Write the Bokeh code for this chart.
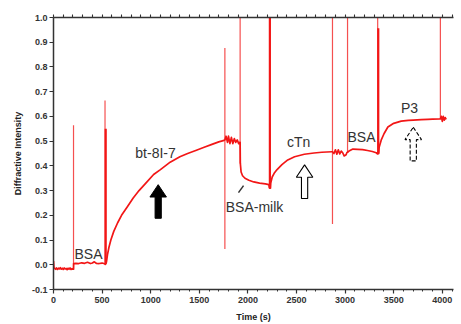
from bokeh.plotting import figure
from bokeh.models import LinearAxis, FixedTicker, Range1d
from bokeh.core.properties import value
from bokeh.embed import file_html
from bokeh.resources import INLINE

# ---------------- data ----------------
time_s = [0, 5, 12, 20, 30, 40, 50, 60, 70, 80, 90, 100, 110, 120, 130, 140, 150, 160, 170, 180, 190, 200,
          206, 207, 230, 260, 290, 320, 350, 380, 400, 420, 440, 470, 500, 526, 532,
          540, 545, 555, 570, 590, 620, 660, 700, 760, 820, 880, 950, 1030, 1100, 1200, 1300, 1380,
          1470, 1550, 1630, 1700, 1755, 1763,
          1775, 1790, 1800, 1815, 1830, 1845, 1860, 1875, 1890, 1905, 1915, 1920,
          1922, 1930, 1945, 1970, 2010, 2060, 2120, 2180, 2215, 2222,
          2232, 2235, 2250, 2270, 2300, 2350, 2410, 2480, 2580, 2680, 2760, 2865, 2870,
          2885, 2900, 2915, 2930, 2945, 2960, 2975, 2990, 3010, 3020, 3025,
          3040, 3080, 3130, 3180, 3230, 3280, 3320, 3335,
          3345, 3350, 3371, 3400, 3440, 3500, 3577, 3650, 3700, 3784, 3850, 3900, 3975, 3980,
          3990, 4000, 4010, 4020, 4030, 4040]
intensity = [0.015, -0.012, -0.015, -0.018, -0.013, -0.019, -0.014, -0.017, -0.012, -0.018, -0.014, -0.019,
             -0.013, -0.017, -0.015, -0.020, -0.014, -0.018, -0.013, -0.019, -0.016, -0.018,
             -0.018, 0.005, 0.006, 0.005, 0.008, 0.006, 0.010, 0.005, 0.007, 0.012, 0.006, 0.005, 0.007, 0.004, 0.002,
             0.005, 0.012, 0.040, 0.070, 0.100, 0.135, 0.170, 0.200, 0.235, 0.270, 0.300, 0.330, 0.365, 0.385,
             0.415, 0.437, 0.450, 0.463, 0.475, 0.487, 0.497, 0.503, 0.505,
             0.520, 0.495, 0.520, 0.490, 0.515, 0.490, 0.510, 0.495, 0.505, 0.490, 0.495, 0.495,
             0.410, 0.375, 0.360, 0.350, 0.342, 0.335, 0.330, 0.327, 0.324, 0.310,
             0.310, 0.330, 0.355, 0.370, 0.385, 0.405, 0.424, 0.437, 0.447, 0.452, 0.455, 0.457, 0.457,
             0.450, 0.465, 0.447, 0.465, 0.448, 0.460, 0.453, 0.440, 0.445, 0.455, 0.455,
             0.460, 0.468, 0.467, 0.466, 0.462, 0.458, 0.453, 0.448,
             0.450, 0.475, 0.504, 0.530, 0.557, 0.572, 0.581, 0.584, 0.585, 0.587, 0.588, 0.589, 0.590, 0.590,
             0.600, 0.580, 0.600, 0.585, 0.595, 0.588]

# injection spikes (time, low, high)
thin_spike_t = [206, 530, 1763, 1920, 2870, 3025, 3335, 3980]
thin_spike_lo = [-0.018, 0.005, 0.064, 0.41, 0.165, 0.455, 0.45, 0.59]
thin_spike_hi = [0.564, 0.664, 0.877, 1.0, 1.0, 1.0, 1.0, 1.0]
thick_spike_t = [537, 2226, 3341]
thick_spike_lo = [0.005, 0.31, 0.45]
thick_spike_hi = [0.55, 1.0, 0.957]

x_ticks = [0, 500, 1000, 1500, 2000, 2500, 3000, 3500, 4000]
x_minor = [t for t in range(0, 4200, 100) if t % 500 != 0]
x_top_ticks = list(range(0, 4200, 100))
y_ticks = [-0.1, 0.0, 0.1, 0.2, 0.3, 0.4, 0.5, 0.6, 0.7, 0.8, 0.9, 1.0]
y_tick_labels = ["-0.1", "0.0", "0.1", "0.2", "0.3", "0.4", "0.5", "0.6", "0.7", "0.8", "0.9", "1.0"]

label_text = ["BSA", "bt-8I-7", "BSA-milk", "cTn", "BSA", "P3"]
label_x = [360, 1050, 2068, 2521, 3169, 3663]
label_y = [0.044, 0.452, 0.232, 0.496, 0.516, 0.636]

arrow_x = [1077, 2583, 3701]
arrow_tip = [0.324, 0.404, 0.556]
arrow_base = [0.188, 0.268, 0.420]

pointer_x = [1903, 1955]
pointer_y = [0.292, 0.320]

# ---------------- figure ----------------
p = figure(width=461, height=324, x_range=Range1d(0, 4115), y_range=Range1d(-0.1, 1.0),
           output_backend="svg", toolbar_location=None,
           min_border_left=53, min_border_right=8, min_border_top=17, min_border_bottom=33)
p.outline_line_color = None
p.grid.visible = False
p.background_fill_color = "white"
p.border_fill_color = "white"

red = "#f21616"
p.line(time_s, intensity, line_color=red, line_width=1.7, line_join="round")
p.segment(x0=thin_spike_t, y0=thin_spike_lo, x1=thin_spike_t, y1=thin_spike_hi,
          line_color=red, line_width=1.2, line_alpha=0.75)
p.segment(x0=thick_spike_t, y0=thick_spike_lo, x1=thick_spike_t, y1=thick_spike_hi,
          line_color=red, line_width=2.2)

# annotations
p.text(x=label_x, y=label_y, text=label_text, text_font=value("Liberation Sans"),
       text_font_size="14px", text_color="#333333", text_align="center", text_baseline="middle")
p.line(pointer_x, pointer_y, line_color="#333333", line_width=1.5)

head_len = 0.05
head_hw = 85
shaft_hw = 32
xs, ys = [], []
for ax, tip, base in zip(arrow_x, arrow_tip, arrow_base):
    hb = tip - head_len
    xs.append([ax, ax + head_hw, ax + shaft_hw, ax + shaft_hw, ax - shaft_hw, ax - shaft_hw, ax - head_hw])
    ys.append([tip, hb, hb, base, base, hb, hb])
p.patch(xs[0], ys[0], fill_color="black", line_color="black", line_width=1)
p.patch(xs[1], ys[1], fill_color="white", line_color="black", line_width=1.1)
p.patch(xs[2], ys[2], fill_color="white", line_color="black", line_width=1.1, line_dash="4 2")

# axes
axis_col = "#333333"
xa = p.xaxis[0]
xa.ticker = FixedTicker(ticks=x_ticks, minor_ticks=x_minor)
ya = p.yaxis[0]
ya.ticker = FixedTicker(ticks=y_ticks)
ya.major_label_overrides = {t: l for t, l in zip(y_ticks, y_tick_labels)}

# top frame line: ticks only, no labels
top = LinearAxis(ticker=FixedTicker(ticks=[], minor_ticks=x_top_ticks))
p.add_layout(top, "above")

for ax in (xa, ya, top):
    ax.axis_line_color = axis_col
    ax.axis_line_width = 1.5
    ax.major_tick_line_color = axis_col
    ax.major_tick_line_width = 1.2
    ax.major_tick_in = 0
    ax.major_tick_out = 4
    ax.minor_tick_in = 0
    ax.minor_tick_out = 2
    ax.minor_tick_line_color = axis_col
    ax.major_label_text_font = "Liberation Sans"
    ax.major_label_text_font_size = "9px"
    ax.major_label_text_font_style = "bold"
    ax.major_label_text_color = "#333333"
ya.minor_tick_line_color = None
top.minor_tick_out = 3
top.minor_tick_line_width = 1.1

xa.axis_label = "Time (s)"
ya.axis_label = "Diffractive Intensity"
for ax in (xa, ya):
    ax.axis_label_text_font = "Liberation Sans"
    ax.axis_label_text_font_size = "9px"
    ax.axis_label_text_font_style = "bold"
    ax.axis_label_text_color = "#222222"
xa.major_label_standoff = 3
xa.axis_label_standoff = 6
ya.major_label_standoff = 2
ya.axis_label_standoff = 6

open("out.html", "w").write(file_html(p, INLINE))
